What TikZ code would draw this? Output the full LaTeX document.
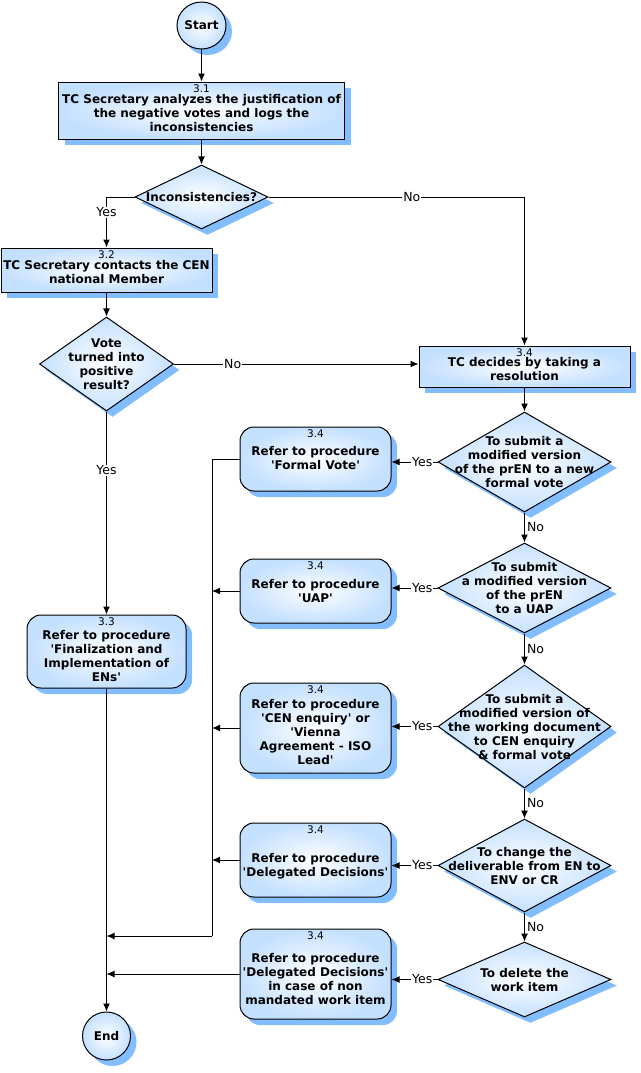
\documentclass[tikz,border=0pt]{standalone}
\usepackage{fontspec}
\setmainfont{DejaVu Sans}
\usepackage{xcolor}
\usepackage{tikz}
\usetikzlibrary{shapes,arrows.meta,positioning,shadows}

\definecolor{boxblue}{RGB}{196,224,255}
\definecolor{shadeblue}{RGB}{130,190,255}

% text of fixed-size shapes, optionally moved down
\newcommand{\ntext}[2][0pt]{\smash{\makebox[0pt]{\raisebox{\dimexpr-5pt-#1\relax}{\begin{tabular}{@{}c@{}}#2\end{tabular}}}}}

\begin{document}
\begin{tikzpicture}[x=1pt,y=-1pt,
    every node/.style={font=\bfseries\fontsize{12}{14}\selectfont, inner sep=0pt},
    flowbox/.style={draw, line width=1pt, inner color=white, outer color=boxblue,
      drop shadow={shadow xshift=6pt, shadow yshift=-6pt, fill=shadeblue, opacity=1}},
    process/.style={flowbox, rectangle},
    refer/.style={flowbox, rectangle, rounded corners=14pt},
    decision/.style={flowbox, diamond},
    terminal/.style={flowbox, ellipse},
    num/.style={anchor=north, inner sep=3pt, font=\fontsize{10.5}{12}\selectfont},
    answer/.style={fill=white, inner sep=1pt, font=\fontsize{12.5}{14}\selectfont},
    sideanswer/.style={right=2pt, font=\fontsize{12.5}{14}\selectfont},
    line/.style={draw, line width=1pt},
    arrow/.style={line, -{Latex[length=8pt,width=7pt]}}]
  \useasboundingbox (0,0) rectangle (640,1073);

  % left column
  \node[terminal, minimum width=49pt, minimum height=47pt] (start) at (201.5,25.5) {Start};
  \node[process, minimum width=286pt, minimum height=57pt, label={[num]north:3.1}] (analyze) at (201.5,110.5)
    {\ntext[2pt]{TC Secretary analyzes the justification of\\the negative votes and logs the\\inconsistencies}};
  \node[decision, minimum width=133pt, minimum height=64pt] (incons) at (201.5,197) {\ntext{Inconsistencies?}};
  \node[process, minimum width=211pt, minimum height=44pt, label={[num]north:3.2}] (contact) at (106.5,270)
    {\ntext[2pt]{TC Secretary contacts the CEN\\national Member}};
  \node[decision, minimum width=134pt, minimum height=94pt] (vote) at (106.5,364)
    {\ntext{Vote\\turned into\\positive\\result?}};
  \node[refer, minimum width=159pt, minimum height=73pt, label={[num]north:3.3}] (final) at (106.5,651.5)
    {\ntext[4pt]{Refer to procedure\\\textquotesingle Finalization and\\Implementation of\\ENs\textquotesingle}};
  \node[terminal, minimum width=48pt, minimum height=48pt] (end) at (106.5,1036) {End};

  % right column
  \node[process, minimum width=211pt, minimum height=41pt, label={[num]north:3.4}] (resol) at (524.5,366.5)
    {\ntext[2pt]{TC decides by taking a\\resolution}};
  \node[decision, minimum width=173pt, minimum height=100pt] (formal) at (524.5,462)
    {\ntext{To submit a\\modified version\\of the prEN to a new\\formal vote}};
  \node[decision, minimum width=173pt, minimum height=90pt] (uap) at (524.5,588)
    {\ntext{To submit\\a modified version\\of the prEN\\to a UAP}};
  \node[decision, minimum width=173pt, minimum height=123pt] (enq) at (524.5,726.5)
    {\ntext{To submit a\\modified version of\\the working document\\to CEN enquiry\\\& formal vote}};
  \node[decision, minimum width=173pt, minimum height=93pt] (deleg) at (524.5,865.5)
    {\ntext{To change the\\deliverable from EN to\\ENV or CR}};
  \node[decision, minimum width=173pt, minimum height=75pt] (del) at (524.5,979.5)
    {\ntext{To delete the\\work item}};

  % referrals
  \node[refer, minimum width=151pt, minimum height=64pt, label={[num]north:3.4}] (reformal) at (315.5,459)
    {\ntext[-1pt]{Refer to procedure\\\textquotesingle Formal Vote\textquotesingle}};
  \node[refer, minimum width=151pt, minimum height=64pt, label={[num]north:3.4}] (reuap) at (315.5,591)
    {\ntext{Refer to procedure\\\textquotesingle UAP\textquotesingle}};
  \node[refer, minimum width=151pt, minimum height=90pt, label={[num]north:3.4}] (reenq) at (315.5,728)
    {\ntext[4pt]{Refer to procedure\\\textquotesingle CEN enquiry\textquotesingle{} or\\\textquotesingle Vienna\\Agreement - ISO\\Lead\textquotesingle}};
  \node[refer, minimum width=151pt, minimum height=74pt, label={[num]north:3.4}] (redeleg) at (315.5,860)
    {\ntext[5pt]{Refer to procedure\\\textquotesingle Delegated Decisions\textquotesingle}};
  \node[refer, minimum width=151pt, minimum height=90pt, label={[num]north:3.4}] (redel) at (315.5,974)
    {\ntext[4.5pt]{Refer to procedure\\\textquotesingle Delegated Decisions\textquotesingle\\in case of non\\mandated work item}};

  \coordinate (busend) at (212,936);

  % connectors
  \draw[arrow] (start) -- (analyze);
  \draw[arrow] (analyze) -- (incons);
  \draw[arrow] (incons.west) -| node[answer, pos=0.65] {Yes} (contact.north);
  \draw[arrow] (incons.east) -| node[answer, pos=0.28] {No} (resol.north);
  \draw[arrow] (contact) -- (vote);
  \draw[arrow] (vote.east) -- node[answer, pos=0.24] {No} (vote.east -| resol.west);
  \draw[arrow] (vote) -- node[answer, pos=0.29] {Yes} (final);
  \draw[arrow] (final) -- (end);
  \draw[arrow] (resol) -- (formal);
  \draw[arrow] (formal) -- node[sideanswer] {No} (uap);
  \draw[arrow] (uap) -- node[sideanswer] {No} (enq);
  \draw[arrow] (enq) -- node[sideanswer] {No} (deleg);
  \draw[arrow] (deleg) -- node[sideanswer] {No} (del);
  \draw[arrow] (formal.west) -- node[answer, pos=0.33] {Yes} (formal.west -| reformal.east);
  \draw[arrow] (uap.west) -- node[answer, pos=0.33] {Yes} (uap.west -| reuap.east);
  \draw[arrow] (enq.west) -- node[answer, pos=0.33] {Yes} (enq.west -| reenq.east);
  \draw[arrow] (deleg.west) -- node[answer, pos=0.33] {Yes} (deleg.west -| redeleg.east);
  \draw[arrow] (del.west) -- node[answer, pos=0.33] {Yes} (del.west -| redel.east);
  \draw[line] (reformal.west) -| (busend);
  \draw[arrow] (busend) -- (busend -| final);
  \draw[arrow] (reuap.west) -- (reuap.west -| busend);
  \draw[arrow] (reenq.west) -- (reenq.west -| busend);
  \draw[arrow] (redeleg.west) -- (redeleg.west -| busend);
  \draw[arrow] (redel.west) -- (redel.west -| final);
\end{tikzpicture}
\end{document}
